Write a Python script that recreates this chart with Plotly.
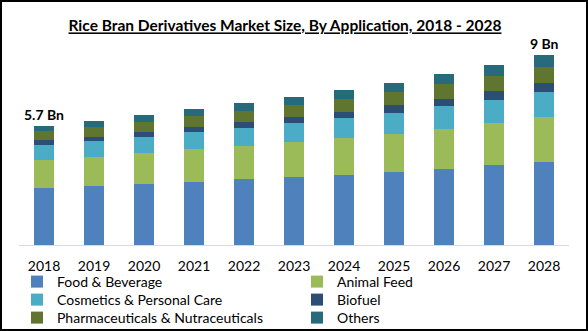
import plotly.graph_objects as go

years = ["2018", "2019", "2020", "2021", "2022", "2023", "2024", "2025", "2026", "2027", "2028"]
food = [2.71, 2.81, 2.90, 3.00, 3.14, 3.24, 3.33, 3.48, 3.62, 3.81, 3.95]
animal = [1.33, 1.38, 1.47, 1.57, 1.57, 1.67, 1.76, 1.81, 1.90, 2.00, 2.14]
cosmetics = [0.71, 0.76, 0.76, 0.81, 0.86, 0.90, 0.95, 1.00, 1.10, 1.10, 1.19]
biofuel = [0.24, 0.19, 0.24, 0.24, 0.29, 0.29, 0.29, 0.38, 0.33, 0.43, 0.43]
pharma = [0.43, 0.47, 0.47, 0.52, 0.52, 0.57, 0.62, 0.62, 0.71, 0.71, 0.76]
others = [0.24, 0.28, 0.33, 0.33, 0.38, 0.38, 0.43, 0.44, 0.48, 0.52, 0.57]
series = [
    ("Food & Beverage", food, "#4F81BD"),
    ("Animal Feed", animal, "#9BBB59"),
    ("Cosmetics & Personal Care", cosmetics, "#4BACC6"),
    ("Biofuel", biofuel, "#2C4D75"),
    ("Pharmaceuticals & Nutraceuticals", pharma, "#5F7530"),
    ("Others", others, "#276A7C"),
]
labels = {"2018": "5.7 Bn", "2028": "9 Bn"}

W, H = 588, 331
ml, mr, mt, mb = 19, 19, 39, 86
pw, ph = W - ml - mr, H - mt - mb

# legend slot positions (container px): column x of text start, row y of text centre
leg_cols = [57, 337]
leg_rows = [282, 300, 318]

fig = go.Figure()
leg_layout = {}
for k, (name, vals, col) in enumerate(series):
    lname = "legend" if k == 0 else f"legend{k + 1}"
    fig.add_trace(go.Bar(x=years, y=vals, name=name, legend=lname,
                         marker=dict(color=col, line=dict(width=0))))
    tx = leg_cols[k % 2] - 40
    ty = leg_rows[k // 2]
    leg_layout[lname] = dict(x=tx / W, y=1 - ty / H, xanchor="left", yanchor="middle",
                             xref="container", yref="container", orientation="v",
                             bgcolor="rgba(0,0,0,0)",
                             font=dict(size=14, color="black", family="Lato"),
                             itemwidth=30, tracegroupgap=0)

totals = [sum(v) for v in zip(*[s[1] for s in series])]
for yr, txt in labels.items():
    i = years.index(yr)
    fig.add_annotation(x=i, y=totals[i], text="<b>" + txt + "</b>", showarrow=False,
                       yanchor="bottom", yshift=1, font=dict(size=14, color="black", family="Lato"))

# outer border
fig.add_shape(type="rect", xref="paper", yref="paper",
              x0=(-ml + 1) / pw, x1=(pw + mr - 1) / pw, y0=(-mb + 1) / ph, y1=(ph + mt - 1) / ph,
              line=dict(color="black", width=2))

fig.update_layout(
    width=W, height=H,
    margin=dict(l=ml, r=mr, t=mt, b=mb, autoexpand=False),
    barmode="stack", bargap=0.6,
    paper_bgcolor="white", plot_bgcolor="white",
    font=dict(family="Lato", size=14, color="black"),
    title=dict(text="<b><u>Rice Bran Derivatives Market Size, By Application, 2018 - 2028</u></b>",
               x=285 / W, xref="container", xanchor="center", y=1 - 26 / H, yanchor="middle",
               font=dict(size=15.5, family="Lato", color="black")),
    xaxis=dict(type="category", range=[-0.5, len(years) - 0.5], showline=True,
               linecolor="#D9D9D9", linewidth=1, ticks="outside", ticklen=8,
               tickcolor="rgba(0,0,0,0)", showgrid=False, tickfont=dict(size=14, color="black")),
    yaxis=dict(range=[0, 9.8], visible=False, showgrid=False),
    showlegend=True,
    **leg_layout,
)
fig.write_html("out.html")
